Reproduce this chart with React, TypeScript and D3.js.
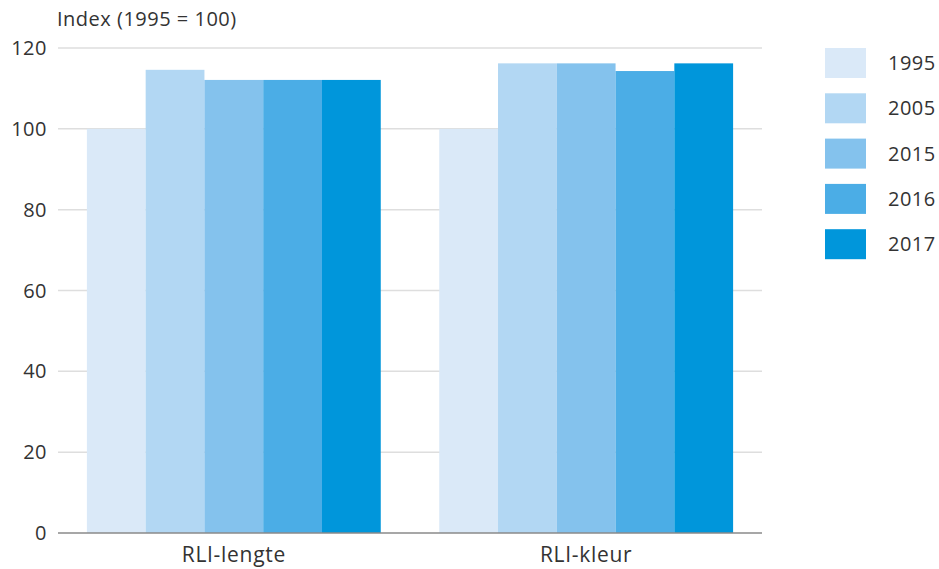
import React from "react";
import * as d3 from "d3";

const categories = ["RLI-lengte", "RLI-kleur"];
const years = ["1995", "2005", "2015", "2016", "2017"];
const values1995 = [100, 100];
const values2005 = [114.6, 116.2];
const values2015 = [112.1, 116.2];
const values2016 = [112.1, 114.3];
const values2017 = [112.1, 116.2];
const series = [values1995, values2005, values2015, values2016, values2017];
const colors = ["#dae9f8", "#b2d7f3", "#84c2ed", "#4badE6", "#0096db"];
const yTicks = [0, 20, 40, 60, 80, 100, 120];
const yTitle = "Index (1995 = 100)";

const W = 939;
const H = 569;
const FONT = "'Open Sans', 'Noto Sans', sans-serif";

export default function App() {
  const left = 58;
  const right = 762;
  const top = 48;
  const bottom = 533;

  const y = d3.scaleLinear().domain([0, 120]).range([bottom, top]);
  const x0 = d3
    .scaleBand<string>()
    .domain(categories)
    .range([left, right])
    .paddingInner(0.166)
    .paddingOuter(0.082);
  const x1 = d3.scaleBand<string>().domain(years).range([0, x0.bandwidth()]).padding(0);

  return (
    <svg
      width={W}
      height={H}
      style={{ position: "absolute", left: 0, top: 0, background: "#fff" }}
      fontFamily={FONT}
    >
      <text x={57} y={26} fontSize={20} letterSpacing={0.5} fill="#333">
        {yTitle}
      </text>
      {yTicks.map((t) => (
        <g key={t}>
          {t !== 0 && (
            <line x1={left} x2={right} y1={y(t)} y2={y(t)} stroke="#dedede" strokeWidth={1.5} />
          )}
          <text x={47} y={y(t)} dy="0.35em" textAnchor="end" fontSize={20} letterSpacing={0.5} fill="#333">
            {t}
          </text>
        </g>
      ))}
      {categories.map((c, ci) => (
        <g key={c} transform={`translate(${x0(c)},0)`}>
          {years.map((yr, si) => (
            <rect
              key={yr}
              x={x1(yr)}
              y={y(series[si][ci])}
              width={x1.bandwidth()}
              height={y(0) - y(series[si][ci])}
              fill={colors[si]}
            />
          ))}
        </g>
      ))}
      <line x1={left} x2={right} y1={y(0)} y2={y(0)} stroke="#8a8a8a" strokeWidth={1.5} />
      {categories.map((c) => (
        <text
          key={c}
          x={(x0(c) as number) + x0.bandwidth() / 2}
          y={562}
          textAnchor="middle"
          fontSize={21}
          letterSpacing={0.7}
          fill="#333"
        >
          {c}
        </text>
      ))}
      {years.map((yr, i) => (
        <g key={yr} transform={`translate(825,${48 + i * 45.3})`}>
          <rect width={41} height={30} fill={colors[i]} />
          <text x={63} y={15} dy="0.35em" fontSize={20} letterSpacing={0.5} fill="#333">
            {yr}
          </text>
        </g>
      ))}
    </svg>
  );
}
